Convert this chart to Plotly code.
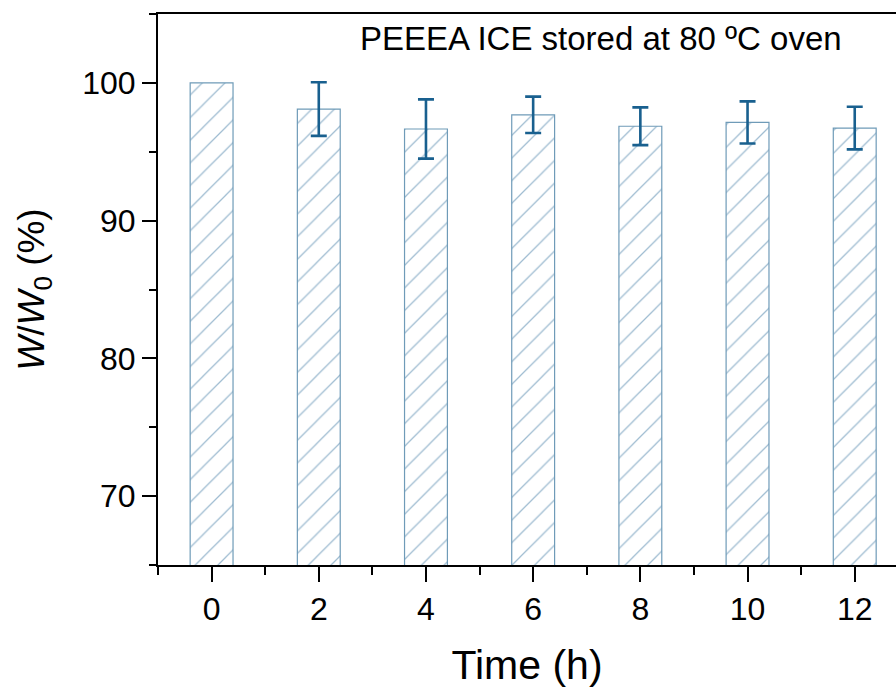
import plotly.graph_objects as go

time_h = [0, 2, 4, 6, 8, 10, 12]
ratio = [100.0, 98.1, 96.65, 97.68, 96.85, 97.13, 96.72]
err = [0.0, 1.95, 2.15, 1.32, 1.37, 1.53, 1.55]
y_ticks = [70, 80, 90, 100]
x_ticks = [0, 2, 4, 6, 8, 10, 12]

fig = go.Figure()
fig.add_trace(go.Bar(
    x=time_h, y=ratio, width=0.8,
    marker=dict(
        color="white",
        line=dict(color="#6f9bb8", width=1.2),
        pattern=dict(shape="/", fgcolor="#3f7aa3", bgcolor="white", size=16, solidity=0.08),
    ),
    showlegend=False,
))
# error bars (the 0 h reference point has no spread, so it is left out)
has_err = [i for i, e in enumerate(err) if e > 0]
fig.add_trace(go.Scatter(
    x=[time_h[i] for i in has_err], y=[ratio[i] for i in has_err],
    mode="markers", marker=dict(size=1, color="rgba(0,0,0,0)"),
    error_y=dict(type="data", array=[err[i] for i in has_err], visible=True,
                 color="#19608f", thickness=2.6, width=8),
    showlegend=False, hoverinfo="skip",
))

font = "Liberation Sans, Arial, sans-serif"
L, R, T, B = 158, 0, 14, 124
fig.update_layout(
    width=896, height=689,
    margin=dict(l=L, r=R, t=T, b=B),
    paper_bgcolor="white", plot_bgcolor="white",
    font=dict(family=font, color="black"),
    xaxis=dict(
        range=[-1, 12.77], tickvals=x_ticks, ticks="outside", ticklen=15, tickwidth=2,
        tickcolor="black", showline=True, linecolor="black", linewidth=2, mirror=True,
        showgrid=False, zeroline=False, tickfont=dict(size=32, family=font),
        minor=dict(dtick=2, tick0=1, ticks="outside", ticklen=8, tickwidth=2, tickcolor="black", showgrid=False),
        title=dict(text="Time (h)", font=dict(size=41, family=font), standoff=24),
    ),
    yaxis=dict(
        range=[65, 105], tickvals=y_ticks, ticks="outside", ticklen=14, tickwidth=2,
        tickcolor="black", showline=True, linecolor="black", linewidth=2,
        showgrid=False, zeroline=False, tickfont=dict(size=32, family=font),
        minor=dict(dtick=5, tick0=65, ticks="outside", ticklen=7, tickwidth=2, tickcolor="black", showgrid=False),
        title=dict(text="<i>W</i>/<i>W</i><sub>0</sub> (%)", font=dict(size=37, family=font), standoff=26),
    ),
)
pw = 896 - L - R
ph = 689 - T - B
fig.add_annotation(
    text="PEEEA ICE stored at 80 ºC oven",
    x=(844 - L) / pw, y=1 - (38 - T) / ph, xref="paper", yref="paper",
    showarrow=False, font=dict(size=33, family=font), xanchor="right", yanchor="middle",
)

fig.write_html("out.html", config={"displayModeBar": False},
               post_script="document.body.style.margin='0';document.body.style.overflow='hidden';")
